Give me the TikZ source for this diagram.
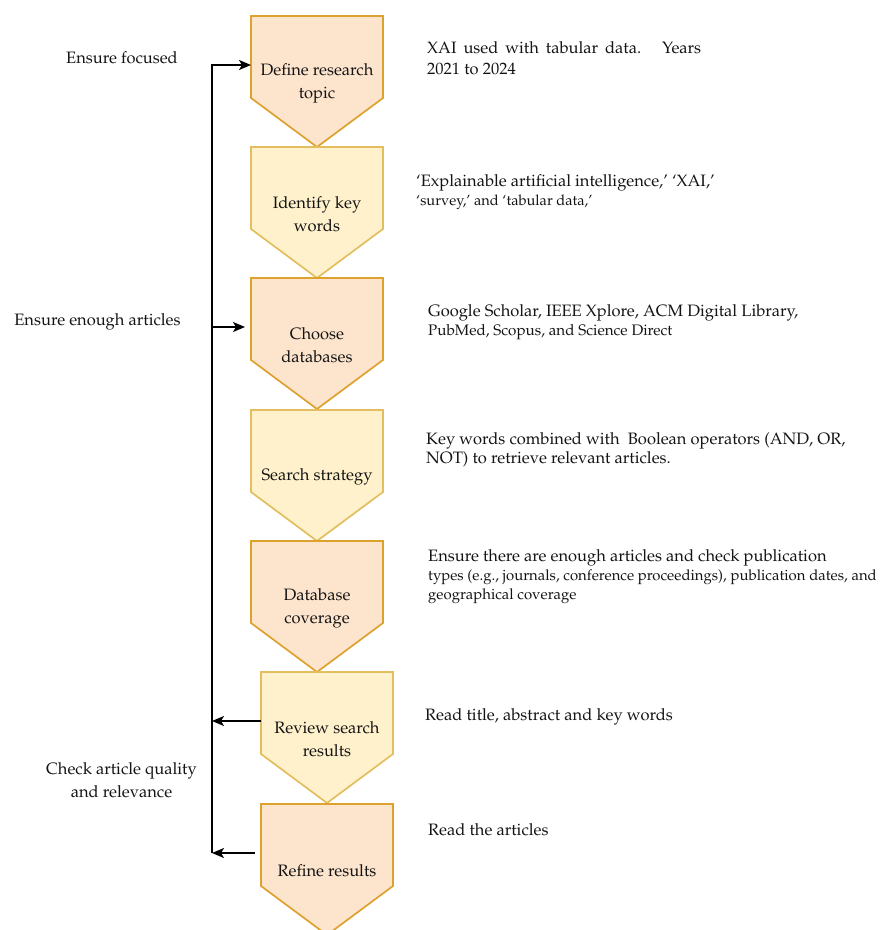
\documentclass[tikz,border=0pt]{standalone}
\usepackage[T1]{fontenc}
\usepackage{mathpazo}
\usetikzlibrary{arrows.meta}

\definecolor{orfill}{HTML}{FDE4CD}
\definecolor{ordraw}{HTML}{DDA22E}
\definecolor{yefill}{HTML}{FFF1CB}
\definecolor{yedraw}{HTML}{E2BE5E}
\definecolor{ink}{HTML}{141414}

\newcommand\fsz[2]{\fontsize{#1}{#2}\selectfont}

\tikzset{
  stepbox/.style={line width=1.7pt, line join=miter},
  steptext/.style={font=\fsz{16.5}{23}, align=center, text=ink, inner sep=0pt},
  % multi-line notes sit on the baseline of their last line
  note/.style={anchor=base west, align=left, font=\fsz{16.5}{21}, text=ink, inner sep=0pt},
  side/.style={anchor=base, align=center, font=\fsz{16.5}{23}, text=ink, inner sep=0pt},
  link/.style={line width=1.5pt, draw=black, -{Stealth[length=12pt,width=10pt,inset=3pt]}}
}

% one step of the process: name, left x, top y, fill, stroke, label
\newcommand\stepshape[6]{%
  \draw[stepbox,fill=#4,draw=#5] (#2,#3) -- ++(132,0) -- ++(0,82) -- ++(-66,49) -- ++(-66,-49) -- cycle;
  \node[steptext] (#1) at ({#2+66},{#3+67}) {#6};
  \coordinate (#1-w) at (#2,{#3+49});
}

\begin{document}
\begin{tikzpicture}[x=1pt,y=-1pt]
\useasboundingbox (0,0) rectangle (881,930);

% process steps
\stepshape{define}{251}{16}{orfill}{ordraw}{Define research\\topic}
\stepshape{keys}{251}{147}{yefill}{yedraw}{Identify key\\words}
\stepshape{dbs}{251}{278}{orfill}{ordraw}{Choose\\databases}
\stepshape{strategy}{251}{410}{yefill}{yedraw}{Search strategy}
\stepshape{coverage}{251}{541}{orfill}{ordraw}{Database\\coverage}
\stepshape{review}{261}{672}{yefill}{yedraw}{Review search\\results}
\stepshape{refine}{261}{804}{orfill}{ordraw}{Refine results}

% descriptions
\node[note] (d1) at (427,53) {\parbox[t]{274pt}{\fsz{16.5}{21}\rightskip=0pt\parfillskip=0pt plus 1fil XAI used with tabular data.\ \ \ Years\linebreak 2021 to 2024}};
\node[note] (d2) at (416,205) {`Explainable artificial intelligence,' `XAI,'\\[-2pt]{\fsz{14.6}{19}`survey,' and `tabular data,'}};
\node[note] (d3) at (428,335.5) {Google Scholar, IEEE Xplore, ACM Digital Library,\\[-2pt]{\fsz{15.2}{19}PubMed, Scopus, and Science Direct}};
\node[note] (d4) at (426,463) {Key words combined with\ \ Boolean operators (AND, OR,\\[-2pt]NOT) to retrieve relevant articles.};
\node[note] (d5) at (428,599) {Ensure there are enough articles and check publication\\[-2pt]{\fsz{14.9}{19}types (e.g., journals, conference proceedings), publication dates, and}\\[-2pt]{\fsz{14.9}{19}geographical coverage}};
\node[note] (d6) at (425,720) {Read title, abstract and key words};
\node[note] (d7) at (428,835) {Read the articles};

% feedback labels
\node[side] (l1) at (122,63) {Ensure focused};
\node[side] (l2) at (97.5,325) {Ensure enough articles};
\node[side] (l3) at (121.5,797) {Check article quality\\and relevance};

% feedback bus
\coordinate (bustop) at (212,65);
\coordinate (busmid) at (212,327);
\coordinate (busrev) at (212,721);
\coordinate (busbot) at (212,853);

\draw[link] (busbot) -- (bustop) -- (define-w);
\draw[link, shorten >=6pt] (busmid) -- (dbs-w |- busmid);
\draw[link] (review-w) -- (busrev);
\draw[link, shorten <=6pt] (refine-w) -- (busbot);
\end{tikzpicture}
\end{document}
